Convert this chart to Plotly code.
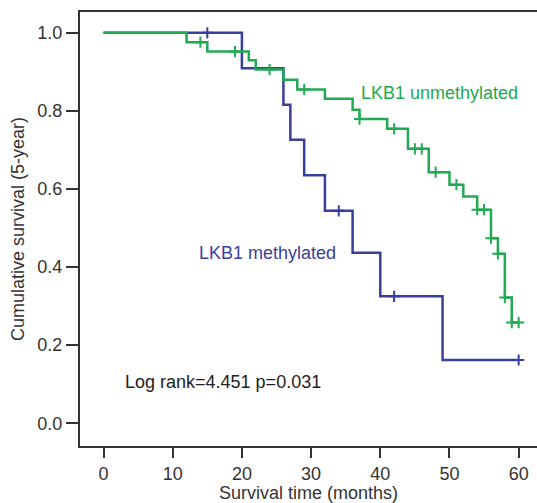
import numpy as np
import plotly.graph_objects as go

# ---- data ----
meth_times = [0, 20, 26, 27, 29, 32, 36, 40, 49, 60]
meth_surv = [1.0, 0.909, 0.816, 0.726, 0.635, 0.544, 0.437, 0.325, 0.162, 0.162]
meth_censor = [15, 34, 42, 60]

unmeth_times = [0, 12, 15, 21, 22, 26, 28, 32, 36, 37, 41, 44, 47, 50, 52, 54, 56, 57, 58, 59, 60]
unmeth_surv = [1.0, 0.976, 0.952, 0.930, 0.906, 0.880, 0.855, 0.831, 0.803, 0.779, 0.754,
               0.703, 0.643, 0.611, 0.581, 0.547, 0.474, 0.434, 0.322, 0.258, 0.258]
unmeth_censor = [14, 19, 24, 29, 37, 42, 45, 46, 48, 51, 54, 55, 56, 57, 58, 59, 60]

x_ticks = [0, 10, 20, 30, 40, 50, 60]
y_ticks = [0.0, 0.2, 0.4, 0.6, 0.8, 1.0]

GREEN = "#22aa52"
BLUE = "#3a3f9e"
FONT = "Liberation Sans, Arial, sans-serif"


def surv_at(times, surv, t):
    idx = np.searchsorted(np.array(times), np.array(t), side="right") - 1
    return list(np.array(surv)[idx])


fig = go.Figure()

for times, surv, cens, col, name in [
    (meth_times, meth_surv, meth_censor, BLUE, "LKB1 methylated"),
    (unmeth_times, unmeth_surv, unmeth_censor, GREEN, "LKB1 unmethylated"),
]:
    fig.add_trace(go.Scatter(x=times, y=surv, mode="lines", line=dict(color=col, width=2.5, shape="hv"),
                             name=name, showlegend=False, hoverinfo="skip"))
    fig.add_trace(go.Scatter(x=cens, y=surv_at(times, surv, cens), mode="markers",
                             marker=dict(symbol="cross-thin-open", size=8, color=col,
                                         line=dict(color=col, width=2)),
                             showlegend=False, hoverinfo="skip"))

fig.add_annotation(x=48.5, y=0.846, text="LKB1 unmethylated", showarrow=False,
                   font=dict(family=FONT, size=18, color=GREEN), xanchor="center", yanchor="middle")
fig.add_annotation(x=23.7, y=0.437, text="LKB1 methylated", showarrow=False,
                   font=dict(family=FONT, size=18, color=BLUE), xanchor="center", yanchor="middle")
fig.add_annotation(x=17.3, y=0.107, text="Log rank=4.451 p=0.031", showarrow=False,
                   font=dict(family=FONT, size=18, color="#222"), xanchor="center", yanchor="middle")

axis_common = dict(showgrid=False, zeroline=False, showline=True, linecolor="#333", linewidth=2,
                   ticks="outside", tickwidth=2, tickcolor="#333", automargin=False,
                   tickfont=dict(family=FONT, size=18, color="#333"))

fig.update_xaxes(range=[-3.4, 62.65], tickvals=x_ticks, ticklen=10, mirror=True,
                 title=dict(text="Survival time (months)", font=dict(family=FONT, size=18, color="#333"), standoff=2),
                 **axis_common)
fig.update_yaxes(range=[-0.0582, 1.0533], tickvals=y_ticks, tickformat=".1f", ticklen=12,
                 title=dict(text="Cumulative survival (5-year)", font=dict(family=FONT, size=18, color="#333"), standoff=8),
                 **axis_common)

fig.update_layout(width=537, height=503, margin=dict(l=80, r=0, t=12, b=57),
                  plot_bgcolor="white", paper_bgcolor="white")

fig.write_html("out.html", config={"displayModeBar": False},
               post_script="document.body.style.margin='0';document.body.style.overflow='hidden';")
